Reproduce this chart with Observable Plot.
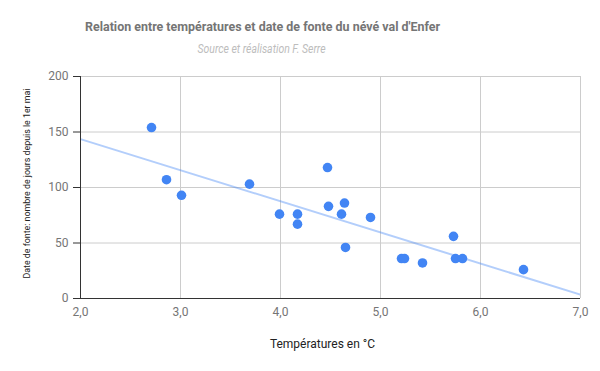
<!DOCTYPE html>
<html>
<head>
<meta charset="utf-8">
<script src="https://cdn.jsdelivr.net/npm/d3@7"></script>
<script src="https://cdn.jsdelivr.net/npm/@observablehq/plot@0.6"></script>
<style>
  body { margin: 0; background: white; font-family: Roboto, sans-serif; }
  #wrap { width: 600px; }
  #head { position: relative; width: 600px; height: 60px; }
  .ttl { position: absolute; white-space: nowrap; transform-origin: center center; }
  #title { top: 18px; line-height: 18px; font-size: 13px; font-weight: bold; color: #757575; }
  #subtitle { top: 40px; line-height: 18px; font-size: 12px; font-style: italic; color: #bdbdbd; }
  svg [aria-label^="y-axis"] line, svg [aria-label^="y-axis"] path { stroke: #333; }
</style>
</head>
<body>
<div id="wrap">
  <div id="head">
    <span class="ttl" id="title">Relation entre températures et date de fonte du névé val d'Enfer</span>
    <span class="ttl" id="subtitle">Source et réalisation F. Serre</span>
  </div>
  <div id="chart"></div>
</div>
<script>
// Data
const temperatures = [2.71, 2.86, 3.01, 3.69, 3.99, 4.17, 4.17, 4.47, 4.48, 4.61, 4.64, 4.65, 4.90, 5.21, 5.24, 5.42, 5.73, 5.75, 5.82, 6.43];
const joursFonte   = [154, 107, 93, 103, 76, 76, 67, 118, 83, 76, 86, 46, 73, 36, 36, 32, 56, 36, 36, 26];
const xTicks = [2, 3, 4, 5, 6, 7];
const yTicks = [0, 50, 100, 150, 200];
const xLabel = "Températures en °C";
const yLabel = "Date de fonte: nombre de jours depuis le 1er mai";

const points = temperatures.map((t, i) => ({t, d: joursFonte[i]}));

// Ordinary least squares trendline, drawn across the x domain
const mx = d3.mean(temperatures), my = d3.mean(joursFonte);
const slope = d3.sum(points, p => (p.t - mx) * (p.d - my)) / d3.sum(points, p => (p.t - mx) ** 2);
const intercept = my - slope * mx;
const xDomain = d3.extent(xTicks);
const trend = xDomain.map(t => ({t, d: intercept + slope * t}));

const fmt = d => d3.format(".1f")(d).replace(".", ",");

const chart = Plot.plot({
  width: 600,
  height: 311,
  marginTop: 16,
  marginBottom: 73,
  marginLeft: 80,
  marginRight: 20,
  style: {fontFamily: "Roboto, sans-serif", fontSize: "12px", color: "#757575", background: "white", overflow: "visible"},
  x: {domain: xDomain, ticks: xTicks, tickFormat: fmt, tickSize: 0, tickPadding: 9, label: null},
  y: {domain: d3.extent(yTicks), ticks: yTicks, tickSize: 7, tickPadding: 5, label: null},
  marks: [
    Plot.ruleY(yTicks.slice(1), {stroke: "#cccccc"}),
    Plot.ruleX(xTicks.slice(1), {stroke: "#cccccc"}),
    Plot.line(trend, {x: "t", y: "d", stroke: "#4285f4", strokeOpacity: 0.4, strokeWidth: 2, clip: true}),
    Plot.dot(points, {x: "t", y: "d", r: 4.8, fill: "#4285f4", stroke: "none"}),
    Plot.ruleY([yTicks[0]], {stroke: "#333"}),
    Plot.ruleX([xTicks[0]], {stroke: "#333"}),
    Plot.text([xLabel], {frameAnchor: "bottom", dy: 46, dx: -8, fill: "#222", fontSize: 12, textAnchor: "middle", lineAnchor: "middle"}),
    Plot.text([yLabel], {frameAnchor: "left", dx: -54, dy: -4, rotate: -90, fill: "#222", fontSize: 9.5, textAnchor: "middle", lineAnchor: "middle"})
  ]
});
document.getElementById("chart").appendChild(chart);

// The reference uses a condensed face: compress the y label to its width
d3.select(chart).selectAll("text").filter(function() { return this.textContent === yLabel; })
  .attr("textLength", 190).attr("lengthAdjust", "spacingAndGlyphs");

// Fit title/subtitle to the condensed widths seen in the reference
function fit(id, centerX, targetW) {
  const el = document.getElementById(id);
  const w = el.offsetWidth;
  el.style.left = (centerX - w / 2) + "px";
  el.style.transform = `scaleX(${targetW / w})`;
}
fit("title", 262, 355);
fit("subtitle", 261, 128);
</script>
</body>
</html>
